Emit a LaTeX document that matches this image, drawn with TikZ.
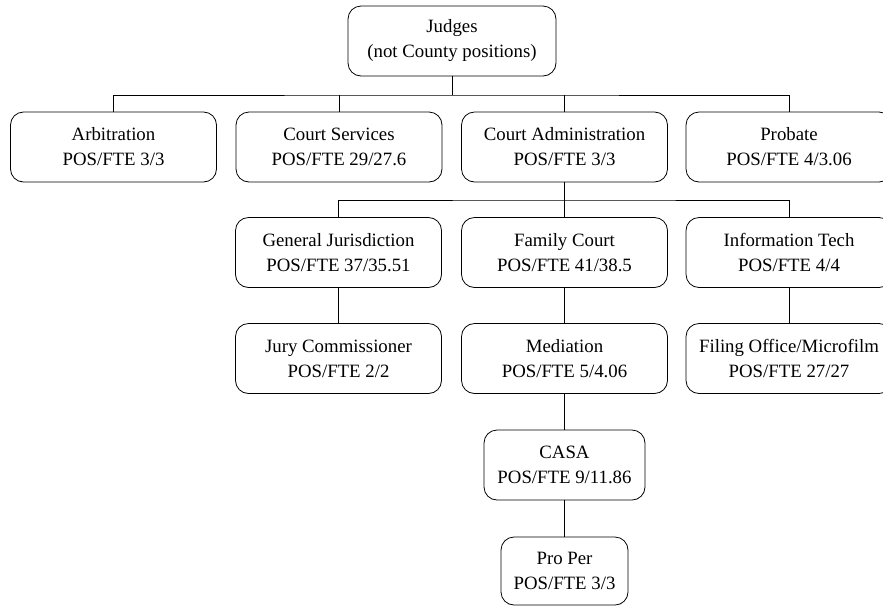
\documentclass[tikz,border=0pt]{standalone}
\usepackage{fontspec}
\setmainfont{Liberation Serif}
\begin{document}
\begin{tikzpicture}[x=1pt,y=-1pt,
  unit/.style={draw, line width=0.8pt, rounded corners=13pt, align=center,
    inner sep=0pt, minimum width=206pt, minimum height=70pt,
    font=\fontsize{18.8}{25}\selectfont},
  link/.style={line width=0.8pt}]
\useasboundingbox (0,0) rectangle (883,606);
\clip (0,0) rectangle (883,606);

% top level
\node[unit, minimum width=208pt] (judges) at (452,41) {Judges\\(not County positions)};

% first row
\node[unit] (arb)  at (113.5,147) {Arbitration\\POS/FTE 3/3};
\node[unit] (cs)   at (339,147)   {Court Services\\POS/FTE 29/27.6};
\node[unit] (ca)   at (564.5,147) {Court Administration\\POS/FTE 3/3};
\node[unit] (prob) at (789,147)   {Probate\\POS/FTE 4/3.06};

% second row
\node[unit] (gj) at (338.5,252.5) {General Jurisdiction\\POS/FTE 37/35.51};
\node[unit] (fc) at (564.5,252.5) {Family Court\\POS/FTE 41/38.5};
\node[unit] (it) at (789,252.5)   {Information Tech\\POS/FTE 4/4};

% third row
\node[unit] (jury) at (338.5,358.5) {Jury Commissioner\\POS/FTE 2/2};
\node[unit] (med)  at (564.5,358.5) {Mediation\\POS/FTE 5/4.06};
\node[unit] (fil)  at (789,358.5)   {Filing Office/Microfilm\\POS/FTE 27/27};

% lower chain
\node[unit, minimum width=161pt] (casa) at (564.5,465) {CASA\\POS/FTE 9/11.86};
\node[unit, minimum width=127pt, minimum height=68pt] (proper) at (564.5,571) {Pro Per\\POS/FTE 3/3};

% connectors
\coordinate (bus1) at (452,95);
\coordinate (bus2) at (564.5,200);
\draw[link] (judges.south) -- (bus1);
\draw[link] (arb.north) |- (bus1) -| (prob.north);
\draw[link] (cs.north) -- (cs.north |- bus1);
\draw[link] (ca.north) -- (ca.north |- bus1);
\draw[link] (ca.south) -- (fc.north);
\draw[link] (gj.north) |- (bus2) -| (it.north);
\draw[link] (gj.south) -- (jury.north);
\draw[link] (fc.south) -- (med.north);
\draw[link] (it.south) -- (fil.north);
\draw[link] (med.south) -- (casa.north);
\draw[link] (casa.south) -- (proper.north);
\end{tikzpicture}
\end{document}
